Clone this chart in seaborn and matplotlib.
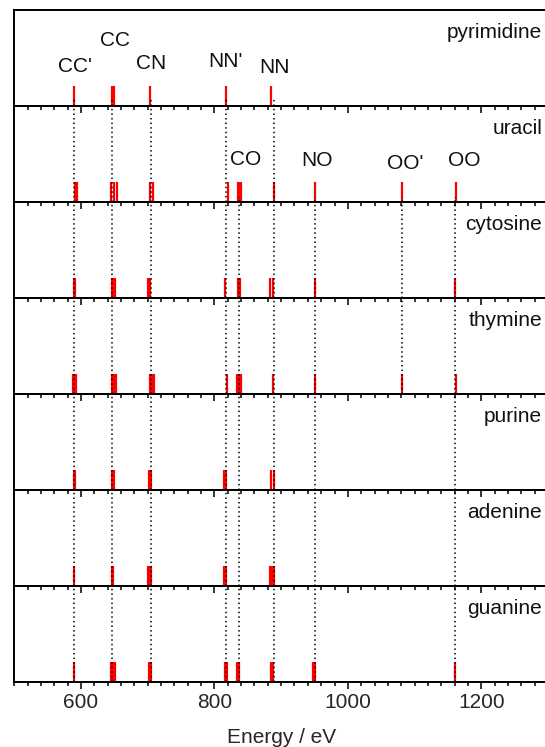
import matplotlib
matplotlib.use("Agg")
import matplotlib.pyplot as plt
from matplotlib.ticker import MultipleLocator
import seaborn as sns

sns.set_style("ticks")
plt.rcParams["font.family"] = ["Liberation Sans", "DejaVu Sans"]

# ---------------- data ----------------
molecules = ["pyrimidine", "uracil", "cytosine", "thymine", "purine", "adenine", "guanine"]

pyrimidine_eV = [589.5, 647, 649, 704, 818, 885.5]
uracil_eV = [590.5, 593.5, 645.5, 650, 653.5, 704, 708, 820, 835, 838, 840, 890, 950.5, 1081, 1162]
cytosine_eV = [589, 591, 646, 648, 651, 701, 704, 816, 835, 838.5, 883.5, 887.5, 950.5, 1160]
thymine_eV = [588, 590, 593, 646, 649, 653, 703, 706, 709, 819, 834, 837, 840, 888.5, 950.5, 1081.5, 1162]
purine_eV = [589, 591, 647, 649, 702, 705, 815, 818, 884.5, 889]
adenine_eV = [589, 646, 648.5, 701, 703.5, 705, 815, 818, 884, 886, 889]
guanine_eV = [590, 645.5, 648, 650.5, 702, 705, 815.5, 818.5, 834.5, 837.5, 884.5, 888, 947, 950, 1160]
sticks = [pyrimidine_eV, uracil_eV, cytosine_eV, thymine_eV, purine_eV, adenine_eV, guanine_eV]

# pair labels and their reference energies
pair_labels = ["CC'", "CC", "CN", "NN'", "NN", "CO", "NO", "OO'", "OO"]
pair_eV = [589, 647, 705, 818, 890, 837, 951, 1081, 1160]
# panel index where each guide line starts / ends
line_start = [0, 0, 0, 0, 0, 1, 1, 1, 1]
line_end = [6, 6, 6, 6, 6, 6, 6, 3, 6]
# label anchor (panel, x in eV, y fraction)
label_panel = [0, 0, 0, 0, 0, 1, 1, 1, 1]
label_x = [590.5, 651.5, 705, 816, 890, 846, 954, 1086, 1174]
label_y = [0.41, 0.68, 0.44, 0.455, 0.40, 0.44, 0.43, 0.40, 0.43]

xmin, xmax = 500, 1300

# ---------------- figure ----------------
W, H = 545, 747
fig = plt.figure(figsize=(W / 100, H / 100), dpi=100)

left_px, right_px = 14.3, 548
top_px, bot_px = 9.5, 681.7
n = len(molecules)
ph = (bot_px - top_px) / n

axes = []
for i in range(n):
    y_bottom = top_px + (i + 1) * ph
    ax = fig.add_axes([left_px / W, 1 - y_bottom / H, (right_px - left_px) / W, ph / H])
    ax.patch.set_visible(False)
    axes.append(ax)

for i, ax in enumerate(axes):
    sns.rugplot(x=sticks[i], height=0.2, color="#ff0000", linewidth=1.6,
                expand_margins=False, ax=ax, zorder=2)
    ax.set_xlim(xmin, xmax)
    ax.set_ylim(0, 1)
    ax.set_yticks([])
    ax.xaxis.set_major_locator(MultipleLocator(200))
    ax.xaxis.set_minor_locator(MultipleLocator(20))
    ax.tick_params(axis="x", which="major", direction="out", length=5, width=1.1,
                   color="black", labelsize=15, pad=3, top=False, bottom=True)
    ax.tick_params(axis="x", which="minor", direction="out", length=2.8, width=1.1,
                   color="black", top=False, bottom=True)
    for s in ax.spines.values():
        s.set_linewidth(1.4)
        s.set_color("black")
    if i < n - 1:
        ax.tick_params(axis="x", which="both", labelbottom=False)

# panel names (right aligned near figure edge)
for i, ax in enumerate(axes):
    y_top_px = top_px + i * ph
    fig.text(542 / W, 1 - (y_top_px + 23) / H, molecules[i], fontsize=15,
             ha="right", va="center", color="#111111")

# dotted guide lines
for e, s, t in zip(pair_eV, line_start, line_end):
    for i in range(s, t + 1):
        ymax = (0.08 if s == 0 else 0.05) if i == s else 1.0
        axes[i].axvline(e, ymin=0, ymax=ymax, color="black", lw=1.1,
                        linestyle=(0, (1, 2.0)), zorder=3)

# pair labels
for lab, p, x, y in zip(pair_labels, label_panel, label_x, label_y):
    axes[p].text(x, y, lab, fontsize=15, ha="center", va="center", color="#111111",
                 zorder=4)

axes[-1].set_xlabel("Energy / eV", fontsize=15, labelpad=12)

fig.savefig("out.png", dpi=100)
